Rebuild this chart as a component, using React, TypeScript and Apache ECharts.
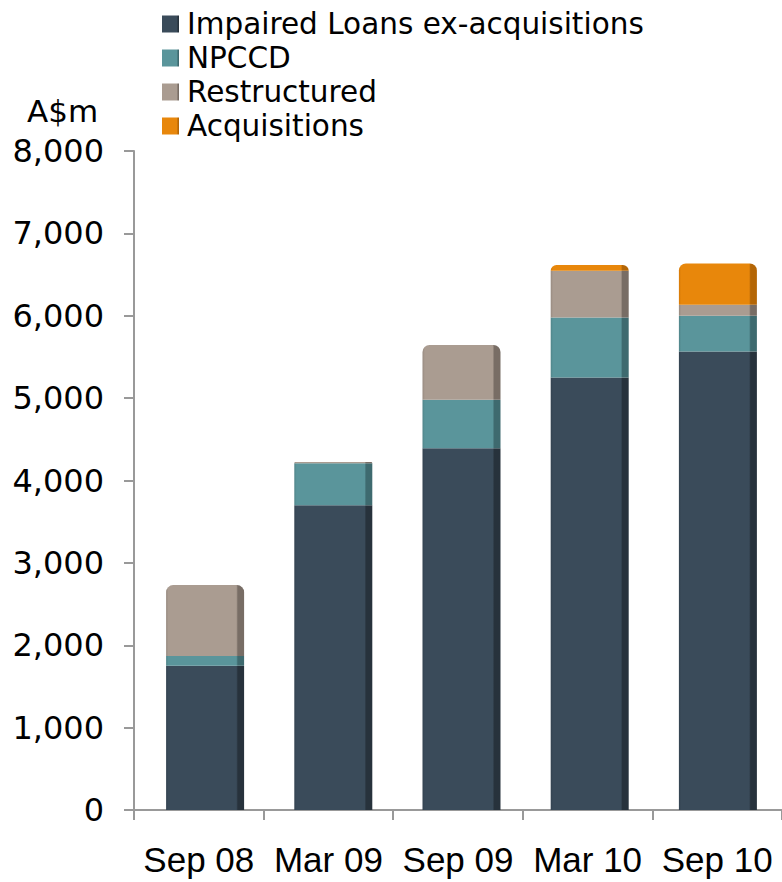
import React, { useEffect, useRef } from "react";
import * as echarts from "echarts";

// Half-year periods
const periods = ["Sep 08", "Mar 09", "Sep 09", "Mar 10", "Sep 10"];

// Impaired assets by component, A$m
const impairedExAcq = [1750, 3700, 4390, 5250, 5565];
const npccd = [120, 510, 590, 730, 435];
const restructured = [860, 15, 665, 565, 135];
const acquisitions = [0, 0, 0, 70, 500];

const yMin = 0;
const yMax = 8000;
const yStep = 1000;

type Stack = { name: string; values: number[]; base: string; edge: string; shade: string };

const stacks: Stack[] = [
  { name: "Impaired Loans ex-acquisitions", values: impairedExAcq, base: "#3a4b5a", edge: "#334250", shade: "#27323c" },
  { name: "NPCCD", values: npccd, base: "#5a959b", edge: "#508489", shade: "#3e6a6f" },
  { name: "Restructured", values: restructured, base: "#aa9c91", edge: "#978a80", shade: "#786d65" },
  { name: "Acquisitions", values: acquisitions, base: "#e8870b", edge: "#d67a07", shade: "#b46606" },
];

const bevel = (s: Stack) => ({
  type: "linear",
  x: 0,
  y: 0,
  x2: 1,
  y2: 0,
  colorStops: [
    { offset: 0, color: s.edge },
    { offset: 0.03, color: s.base },
    { offset: 0.9, color: s.base },
    { offset: 0.92, color: s.shade },
    { offset: 1, color: s.shade },
  ],
});

export default function App() {
  const ref = useRef<HTMLDivElement>(null);

  useEffect(() => {
    if (!ref.current) return;
    const chart = echarts.init(ref.current, undefined, { renderer: "svg" });

    // index of the topmost non-empty segment for each period
    const topIndex = periods.map((_, i) => {
      let t = 0;
      stacks.forEach((s, k) => {
        if (s.values[i] > 0) t = k;
      });
      return t;
    });

    const barSeries = stacks.map((s, k) => ({
      type: "bar",
      name: s.name,
      stack: "total",
      xAxisIndex: 1,
      yAxisIndex: 1,
      barWidth: 78,
      itemStyle: { color: bevel(s) },
      data: s.values.map((v, i) => ({
        value: v,
        itemStyle: { borderRadius: topIndex[i] === k ? [7, 7, 0, 0] : 0 },
      })),
    }));

    const axisLine = { show: true, lineStyle: { color: "#999999", width: 2 } };

    chart.setOption({
      animation: false,
      backgroundColor: "#ffffff",
      legend: {
        orient: "vertical",
        left: 157,
        top: 2,
        itemWidth: 17,
        itemHeight: 17,
        itemGap: 0,
        icon: "rect",
        textStyle: {
          fontFamily: "DejaVu Sans",
          fontSize: 29.5,
          color: "#000000",
          lineHeight: 34,
          padding: [0, 0, 0, 3],
        },
        data: stacks.map((s) => s.name),
      },
      graphic: [
        {
          type: "text",
          left: 27,
          top: 95,
          style: { text: "A$m", font: "31px 'DejaVu Sans'", fill: "#000000" },
        },
      ],
      grid: [
        { left: 134, top: 151, width: 650, height: 659 },
        { left: 141, top: 151, width: 650, height: 659 },
      ],
      xAxis: [
        {
          type: "category",
          gridIndex: 0,
          data: periods,
          axisLine,
          axisTick: { show: true, length: 10, lineStyle: { color: "#999999", width: 2 } },
          axisLabel: {
            interval: 0,
            margin: 32,
            fontFamily: "Liberation Sans",
            fontSize: 35,
            color: "#000000",
          },
        },
        { type: "category", gridIndex: 1, data: periods, show: false },
      ],
      yAxis: [
        {
          type: "value",
          gridIndex: 0,
          min: yMin,
          max: yMax,
          interval: yStep,
          axisLine,
          axisTick: { show: true, length: 10, lineStyle: { color: "#999999", width: 2 } },
          splitLine: { show: false },
          axisLabel: {
            margin: 30,
            fontFamily: "DejaVu Sans",
            fontSize: 32,
            color: "#000000",
            formatter: (v: number) => v.toLocaleString("en-US"),
          },
        },
        { type: "value", gridIndex: 1, min: yMin, max: yMax, interval: yStep, show: false },
      ],
      series: [
        {
          type: "bar",
          xAxisIndex: 0,
          yAxisIndex: 0,
          silent: true,
          data: periods.map(() => 0),
          itemStyle: { color: "rgba(0,0,0,0)" },
        },
        ...barSeries,
      ],
    });

    return () => chart.dispose();
  }, []);

  return (
    <div
      ref={ref}
      style={{ position: "fixed", left: 0, top: 0, width: 782, height: 882 }}
    />
  );
}
